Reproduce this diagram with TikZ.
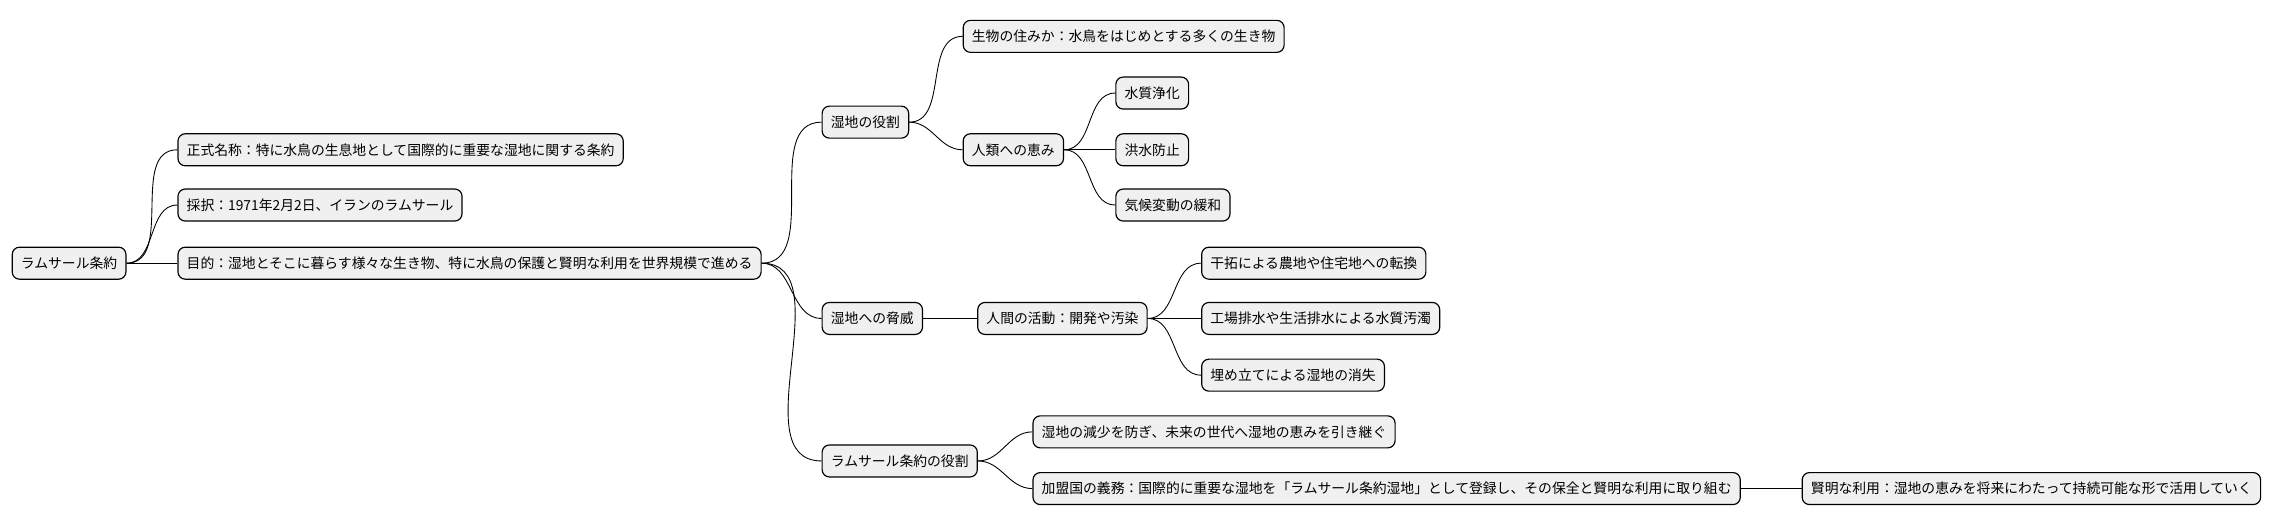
\documentclass[tikz,border=0pt]{standalone}
\usepackage{fontspec}
\setmainfont{Noto Sans CJK JP}
\usetikzlibrary{positioning}
\tikzset{
  topic/.style={draw=black, fill=gray!12, rounded corners=5pt, line width=0.8pt,
    minimum height=22pt, inner xsep=6pt, anchor=west, font=\fontsize{9.5}{11}\selectfont},
  link/.style={line width=0.6pt, out=0, in=180}
}
\begin{document}
\begin{tikzpicture}[x=1pt,y=1pt]
\useasboundingbox (0,0) rectangle (1568,-362);

\node[topic] (ramsar) at (8,-181) {ラムサール条約};

\node[topic] (name) at (122,-103) {正式名称：特に水鳥の生息地として国際的に重要な湿地に関する条約};
\node[topic] (adopt) at (122,-141) {採択：1971年2月2日、イランのラムサール};
\node[topic] (goal) at (122,-181) {目的：湿地とそこに暮らす様々な生き物、特に水鳥の保護と賢明な利用を世界規模で進める};

\node[topic] (role) at (565,-84) {湿地の役割};
\node[topic] (habitat) at (662,-25) {生物の住みか：水鳥をはじめとする多くの生き物};
\node[topic] (benefit) at (662,-103) {人類への恵み};
\node[topic] (purify) at (767,-64) {水質浄化};
\node[topic] (flood) at (767,-103) {洪水防止};
\node[topic] (climate) at (767,-141) {気候変動の緩和};

\node[topic] (threat) at (565,-219) {湿地への脅威};
\node[topic] (human) at (672,-219) {人間の活動：開発や汚染};
\node[topic] (reclaim) at (826,-181) {干拓による農地や住宅地への転換};
\node[topic] (waste) at (826,-219) {工場排水や生活排水による水質汚濁};
\node[topic] (landfill) at (826,-258) {埋め立てによる湿地の消失};

\node[topic] (treaty) at (565,-317) {ラムサール条約の役割};
\node[topic] (future) at (710,-297) {湿地の減少を防ぎ、未来の世代へ湿地の恵みを引き継ぐ};
\node[topic] (duty) at (710,-336) {加盟国の義務：国際的に重要な湿地を「ラムサール条約湿地」として登録し、その保全と賢明な利用に取り組む};
\node[topic] (wise) at (1239,-336) {賢明な利用：湿地の恵みを将来にわたって持続可能な形で活用していく};

\foreach \a/\b in {ramsar/name, ramsar/adopt, ramsar/goal,
    goal/role, goal/threat, goal/treaty,
    role/habitat, role/benefit, benefit/purify, benefit/flood, benefit/climate,
    threat/human, human/reclaim, human/waste, human/landfill,
    treaty/future, treaty/duty, duty/wise}
  \draw[link] (\a.east) to (\b.west);
\end{tikzpicture}
\end{document}
